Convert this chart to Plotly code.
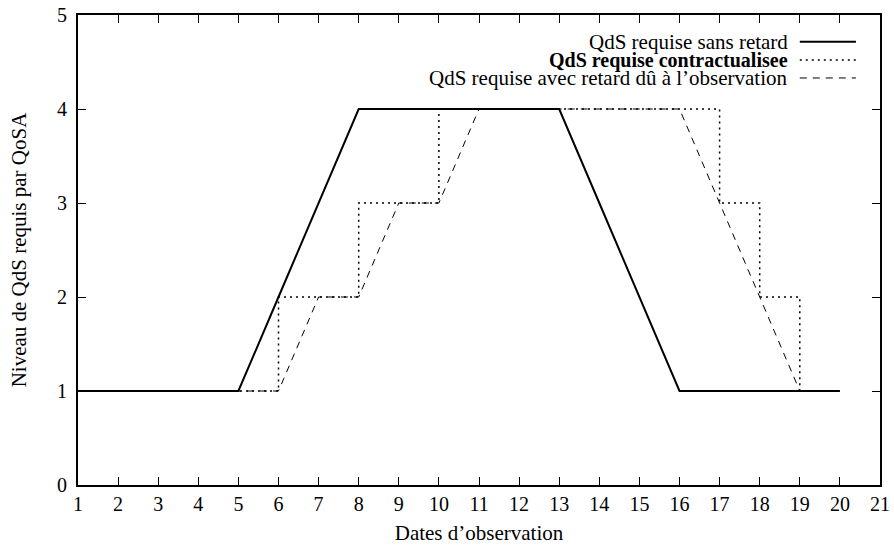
import plotly.graph_objects as go

dates = list(range(1, 21))
sans_retard = [1, 1, 1, 1, 1, 2, 3, 4, 4, 4, 4, 4, 4, 3, 2, 1, 1, 1, 1, 1]
contractualisee = [1, 1, 1, 1, 1, 2, 2, 3, 3, 4, 4, 4, 4, 4, 4, 4, 3, 2, 1, 1]
avec_retard = [1, 1, 1, 1, 1, 1, 2, 2, 3, 3, 4, 4, 4, 4, 4, 4, 3, 2, 1, 1]

x_ticks = list(range(1, 22))
y_ticks = [0, 1, 2, 3, 4, 5]

names = ["QdS requise sans retard", "<b>QdS requise contractualisee</b>",
         "QdS requise avec retard dû à l’observation"]
name_sizes = [21, 20, 21]
styles = [dict(color="black", width=2, dash="solid"),
          dict(color="black", width=1.5, dash="2px,4px"),
          dict(color="black", width=1, dash="7px,6px")]

FONT = "Liberation Serif"

fig = go.Figure()
fig.add_trace(go.Scatter(x=dates, y=sans_retard, mode="lines", line=styles[0],
                         line_shape="linear", showlegend=False))
fig.add_trace(go.Scatter(x=dates, y=contractualisee, mode="lines", line=styles[1],
                         line_shape="hv", showlegend=False))
fig.add_trace(go.Scatter(x=dates, y=avec_retard, mode="lines", line=styles[2],
                         line_shape="linear", showlegend=False))

# manual legend (text right-aligned, sample on the right, like gnuplot)
leg_y = [0.943, 0.904, 0.866]
for name, fs, st, yy in zip(names, name_sizes, styles, leg_y):
    fig.add_annotation(x=0.886, y=yy, xref="paper", yref="paper", text=name,
                       showarrow=False, xanchor="right", yanchor="middle",
                       borderpad=0,
                       font=dict(family=FONT, size=fs, color="black"))
    fig.add_shape(type="line", xref="paper", yref="paper",
                  x0=0.900, x1=0.970, y0=yy, y1=yy, line=st)

fig.update_layout(
    width=894, height=545,
    margin=dict(l=78, r=14, t=15, b=60),
    paper_bgcolor="white", plot_bgcolor="white",
    font=dict(family=FONT, size=20, color="black"),
    hovermode=False,
)
fig.update_xaxes(range=[1, 21], tickvals=x_ticks, ticks="inside", ticklen=8,
                 tickwidth=1, tickcolor="black", showline=True, linecolor="black",
                 linewidth=2, mirror="ticks", showgrid=False, zeroline=False,
                 automargin=False, ticklabeloverflow="allow",
                 tickfont=dict(family=FONT, size=20),
                 title=dict(text="Dates d’observation", font=dict(family=FONT, size=21),
                            standoff=15))
fig.update_yaxes(range=[0, 5], tickvals=y_ticks, ticks="inside", ticklen=8,
                 tickwidth=1, tickcolor="black", showline=True, linecolor="black",
                 linewidth=2, mirror="ticks", showgrid=False, zeroline=False,
                 automargin=False, ticklabelstandoff=5, ticklabeloverflow="allow",
                 tickfont=dict(family=FONT, size=20),
                 title=dict(text="Niveau de QdS requis par QoSA",
                            font=dict(family=FONT, size=21), standoff=25))

# remove the default 8px page margin so the figure fills the window exactly
fig.write_html("out.html", config={"displayModeBar": False},
               post_script="document.body.style.margin='0';document.body.style.overflow='hidden';")
